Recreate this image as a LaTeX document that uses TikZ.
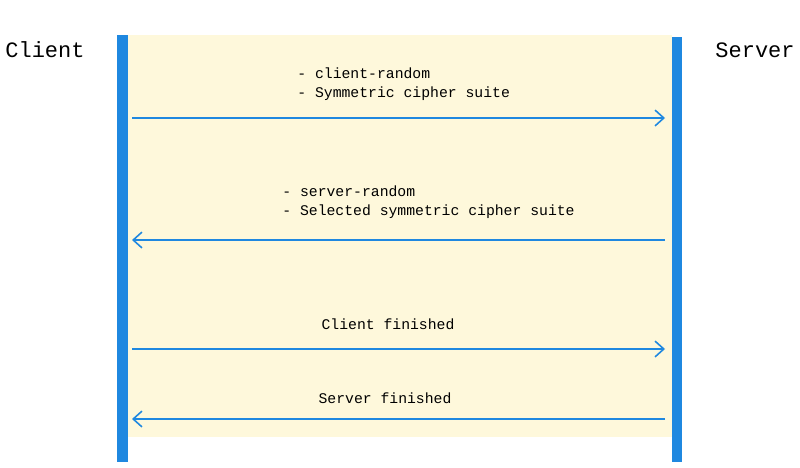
\documentclass[tikz,border=0pt]{standalone}
\usepackage{fontspec}
\setmonofont{Liberation Mono}
\usetikzlibrary{arrows.meta}
\definecolor{bg}{HTML}{FEF8DB}
\definecolor{bar}{HTML}{1F88E0}
\begin{document}
\begin{tikzpicture}[x=0.02cm,y=-0.02cm,
  msg/.style={draw=bar,line width=0.9pt,-{Straight Barb[length=5pt,width=9pt]}},
  lbl/.style={font=\ttfamily\fontsize{8.4pt}{10.5pt}\selectfont,inner sep=0pt,align=left},
  role/.style={font=\ttfamily\fontsize{12.5pt}{14pt}\selectfont,inner sep=0pt}]
\useasboundingbox (0,0) rectangle (800,467);
\fill[bg] (128,35) rectangle (672,437);
\fill[bar] (117,35) rectangle (128,462);
\fill[bar] (672,37) rectangle (682,462);
\coordinate (l1) at (132,118); \coordinate (r1) at (665,118);
\coordinate (l2) at (132,240); \coordinate (r2) at (665,240);
\coordinate (l3) at (132,349); \coordinate (r3) at (665,349);
\coordinate (l4) at (132,419); \coordinate (r4) at (665,419);
\node[role] (client) at (45,50) {Client};
\node[role] (server) at (755,50) {Server};
\node[lbl,anchor=west] (t1) at (297,84) {- client-random\\- Symmetric cipher suite};
\node[lbl,anchor=west] (t2) at (282,202) {- server-random\\- Selected symmetric cipher suite};
\node[lbl] (t3) at (388,324) {Client finished};
\node[lbl] (t4) at (385,398) {Server finished};
\draw[msg] (l1) -- (r1);
\draw[msg] (r2) -- (l2);
\draw[msg] (l3) -- (r3);
\draw[msg] (r4) -- (l4);
\end{tikzpicture}
\end{document}
